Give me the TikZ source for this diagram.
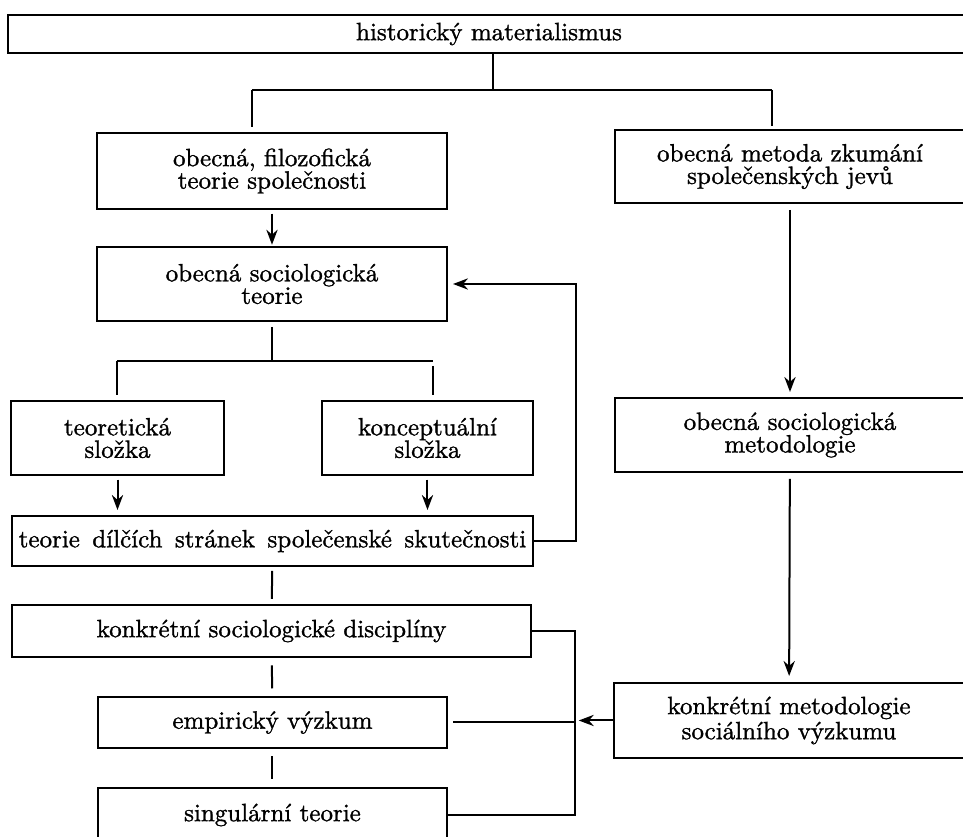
\documentclass[tikz,border=0pt]{standalone}
\usepackage{fontspec}
\setmainfont{Latin Modern Roman}[FakeBold=1.2]
\usetikzlibrary{arrows.meta}
\begin{document}
\begin{tikzpicture}[x=0.4pt, y=-0.4pt, line width=0.8pt,
    >={Stealth[length=6pt,width=4.5pt]},
    box/.style={draw, align=center, inner sep=0pt, font=\fontsize{10}{9}\selectfont}]
      \clip (0,0) rectangle (963,837);
      \node[box, minimum width=384.8pt, minimum height=15.2pt] (hm) at (489,34) {historický materialismus};
      \node[box, minimum width=140pt, minimum height=30.4pt] (filozof) at (272,171) {obecná, filozofická\\teorie společnosti};
      \node[box, minimum width=140pt, minimum height=29.2pt] (metoda) at (790,166.5) {obecná metoda zkumání\\společenských jevů};
      \node[box, minimum width=140pt, minimum height=29.6pt] (socteorie) at (272,284) {obecná sociologická\\teorie};
      \node[box, minimum width=85.2pt, minimum height=29.6pt] (teoret) at (117.5,438) {teoretická\\složka};
      \node[box, minimum width=84.4pt, minimum height=29.6pt] (koncept) at (427.5,438) {konceptuální\\složka};
      \node[box, minimum width=208.4pt, minimum height=20pt] (dilci) at (272.5,541) {\makebox[203pt][s]{teorie dílčích stránek společenské skutečnosti}};
      \node[box, minimum width=207.6pt, minimum height=20.8pt] (discipl) at (271.5,631) {konkrétní sociologické disciplíny};
      \node[box, minimum width=139.6pt, minimum height=20.4pt] (empir) at (272.5,722.5) {empirický výzkum};
      \node[box, minimum width=139.6pt, minimum height=21.6pt] (singul) at (272.5,815) {singulární teorie};
      \node[box, minimum width=140pt, minimum height=29.6pt] (metodol) at (790,435) {obecná sociologická\\metodologie};
      \node[box, minimum width=140pt, minimum height=30pt] (konkmet) at (789,720.5) {konkrétní metodologie\\sociálního výzkumu};
      \coordinate (hmL) at (252,90);
      \coordinate (hmR) at (772,90);
      \coordinate (stL) at (117,361);
      \coordinate (stR) at (433,361);
      \draw (hm.south -| 493,0) -- (493,90);
      \draw (hmL) -- (hmR);
      \draw[shorten >=2pt] (hmL) -- (hmL |- filozof.north);
      \draw[shorten >=1pt] (hmR) -- (hmR |- metoda.north);
      \draw[->, shorten <=1.5pt, shorten >=0.5pt] (filozof) -- (socteorie);
      \draw[shorten <=2pt] (socteorie.south) -- (socteorie.south |- stL);
      \draw (stL) -- (stR);
      \draw[shorten >=2pt] (stL) -- (stL |- teoret.north);
      \draw[shorten <=2pt, shorten >=2pt] (stR) -- (stR |- koncept.north);
      \draw[->, shorten <=1.5pt, shorten >=2pt] (teoret.south) -- (teoret.south |- dilci.north);
      \draw[->, shorten <=1.5pt, shorten >=2pt] (koncept.south) -- (koncept.south |- dilci.north);
      \draw[->, shorten >=2pt] (dilci.east) -- ++(42,0) |- (socteorie.east);
      \draw[shorten <=1.6pt, shorten >=2pt] (dilci) -- (discipl);
      \draw[shorten <=3pt, shorten >=3pt] (discipl) -- (empir);
      \draw[shorten <=3pt, shorten >=3pt] (empir) -- (singul);
      \draw[->, shorten <=2.4pt, shorten >=2pt] (metoda) -- (metodol);
      \draw[->, shorten <=2.4pt, shorten >=2.4pt] (metodol) -- (konkmet);
      \draw (discipl.east) -- ++(43,0) coordinate (bus) -- (bus |- singul.east) -- (singul.east);
      \draw[shorten <=2pt] (empir.east) -- (empir.east -| bus);
      \draw[->, shorten >=1.5pt] (konkmet.west) -- (konkmet.west -| bus);
    \end{tikzpicture}
\end{document}
